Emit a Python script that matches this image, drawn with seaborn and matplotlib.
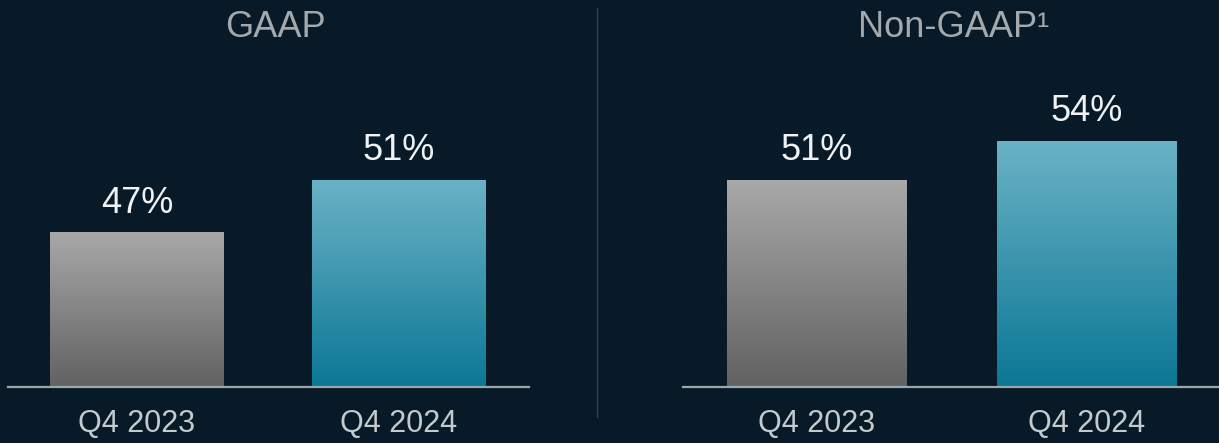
import numpy as np
import pandas as pd
import matplotlib
matplotlib.use("Agg")
import matplotlib.pyplot as plt
import seaborn as sns
from matplotlib.colors import LinearSegmentedColormap

# chart data
categories = ["Q4 2023", "Q4 2024"]
gaap_margin = [47, 51]
non_gaap_margin = [51, 54]
panel_titles = ["GAAP", "Non-GAAP\u00b9"]

BG = "#081a27"
GRAY_TOP, GRAY_BOTTOM = "#a8a8a8", "#626262"
TEAL_TOP, TEAL_BOTTOM = "#6ab2c5", "#0b7896"
Y_MIN, Y_MAX = 35.2, 60.3


def fill_gradient(ax, bar, top_color, bottom_color):
    """Replace the flat face of `bar` by a vertical gradient."""
    cmap = LinearSegmentedColormap.from_list("grad", [bottom_color, top_color])
    grad = np.linspace(0, 1, 256).reshape(-1, 1)
    x0, w, h = bar.get_x(), bar.get_width(), bar.get_height()
    ax.imshow(
        grad, cmap=cmap, origin="lower", aspect="auto",
        extent=[x0, x0 + w, Y_MIN, h], zorder=bar.get_zorder(),
    )
    bar.set_facecolor("none")
    bar.set_edgecolor("none")


def margin_panel(ax, values, xlim):
    """Draw one two-bar panel."""
    data = pd.DataFrame({"quarter": categories, "margin": values})
    sns.barplot(
        data=data, x="quarter", y="margin", hue="quarter",
        palette=[GRAY_TOP, TEAL_TOP], legend=False, width=0.665, ax=ax,
    )
    colors = [(GRAY_TOP, GRAY_BOTTOM), (TEAL_TOP, TEAL_BOTTOM)]
    bars = [p for c in ax.containers for p in c]
    for bar, (top, bottom) in zip(bars, colors):
        fill_gradient(ax, bar, top, bottom)
    for container in ax.containers:
        ax.bar_label(container, fmt="%g%%", padding=9, fontsize=26,
                     color="#eef2f4")

    ax.set_xlim(*xlim)
    ax.set_ylim(Y_MIN, Y_MAX)
    ax.set_facecolor(BG)
    ax.set_xlabel("")
    ax.set_ylabel("")
    ax.set_yticks([])
    ax.tick_params(axis="x", length=0, pad=16, labelsize=22, labelcolor="#c3cbcf")
    for side in ["top", "left", "right"]:
        ax.spines[side].set_visible(False)
    ax.spines["bottom"].set_color("#9aa8ae")
    ax.spines["bottom"].set_linewidth(1.6)


sns.set_theme(style="white")
plt.rcParams["font.family"] = ["Liberation Sans", "DejaVu Sans"]

W, H = 1219, 443
fig = plt.figure(figsize=(W / 100, H / 100), dpi=100, facecolor=BG)

bottom = (H - 386.5) / H
height = (386.5 - 60) / H
ax_left = fig.add_axes([8 / W, bottom, 521 / W, height])
ax_right = fig.add_axes([683 / W, bottom, 536 / W, height])

margin_panel(ax_left, gaap_margin, (-0.493, 1.499))
margin_panel(ax_right, non_gaap_margin, (-0.495, 1.49))

fig.text(275 / W, (H - 37) / H, panel_titles[0], ha="center", va="baseline",
         fontsize=26, color="#a3a9ac")
fig.text(954 / W, (H - 37) / H, panel_titles[1], ha="center", va="baseline",
         fontsize=26, color="#a3a9ac")

# divider between the two panels
fig.add_artist(plt.Line2D([597 / W, 597 / W], [(H - 417) / H, (H - 8) / H],
                          color="#34434b", linewidth=1))

fig.savefig("out.png", dpi=100, facecolor=BG)
